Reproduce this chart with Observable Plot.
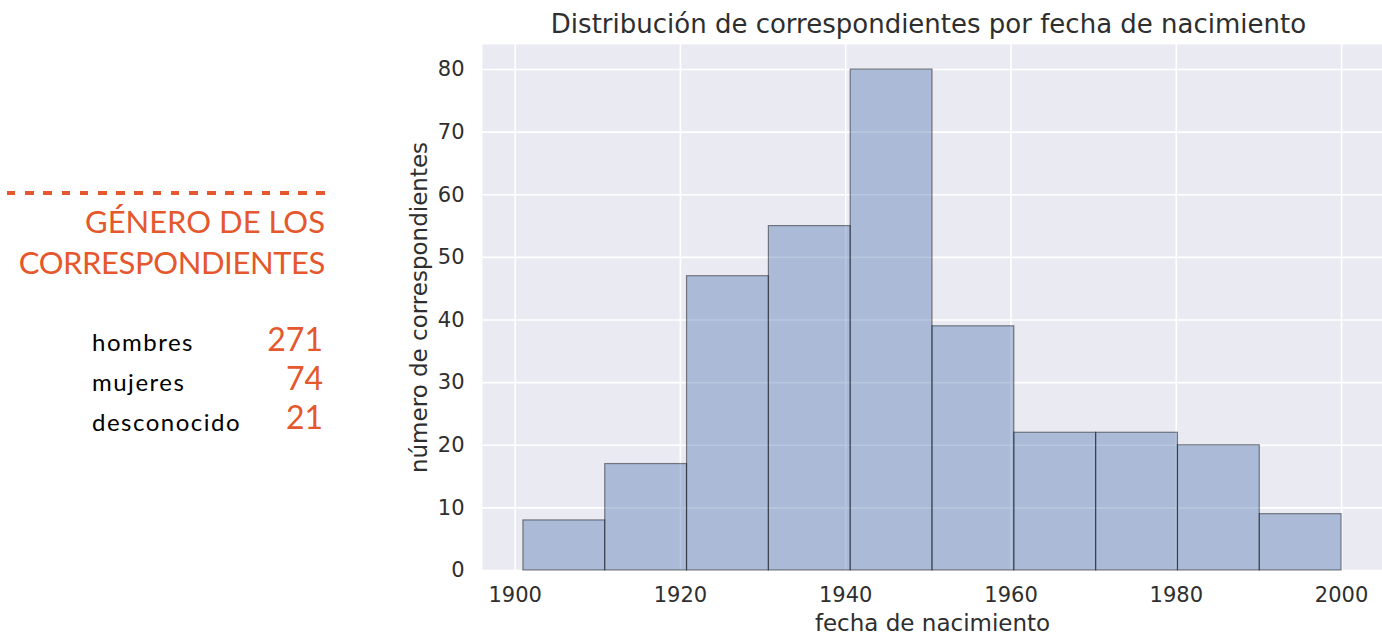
<!DOCTYPE html>
<html>
<head>
<meta charset="utf-8">
<script src="https://cdn.jsdelivr.net/npm/d3@7"></script>
<script src="https://cdn.jsdelivr.net/npm/@observablehq/plot@0.6"></script>
<style>
  html, body { margin: 0; padding: 0; background: #fff; width: 1382px; height: 635px; overflow: hidden; }
  #wrap { position: relative; width: 1382px; height: 635px; }
  #chart { position: absolute; left: 0; top: 0; }
  #side { position: absolute; left: 0; top: 0; width: 330px; height: 635px; font-family: Lato, sans-serif; }
  .rule { position: absolute; left: 7px; top: 191px; width: 318px; height: 4px;
          background: repeating-linear-gradient(to right, #e5572c 0 8.5px, transparent 8.5px 18.2px); }
  .head { position: absolute; right: 5px; color: #e5572c; font-size: 31px; line-height: 31px; font-weight: 400; white-space: nowrap; text-align: right; }
  .head.long { letter-spacing: -0.4px; }
  .lab { position: absolute; left: 92px; color: #000; font-size: 24px; line-height: 24px; letter-spacing: 1.5px; white-space: nowrap; }
  .num { position: absolute; right: 7px; color: #e5572c; font-size: 32px; line-height: 32px; font-weight: 400; white-space: nowrap; text-align: right; }
</style>
</head>
<body>
<div id="wrap">
  <div id="chart"></div>
  <div id="side"><div class="rule"></div></div>
</div>
<script>
// ---- data ----
const binStart = [1901, 1910.9, 1920.8, 1930.7, 1940.6, 1950.5, 1960.4, 1970.3, 1980.2, 1990.1];
const binEnd   = [1910.9, 1920.8, 1930.7, 1940.6, 1950.5, 1960.4, 1970.3, 1980.2, 1990.1, 2000];
const counts   = [8, 17, 47, 55, 80, 39, 22, 22, 20, 9];
const xTicks   = [1900, 1920, 1940, 1960, 1980, 2000];
const yTicks   = [0, 10, 20, 30, 40, 50, 60, 70, 80];
const titleText = "Distribución de correspondientes por fecha de nacimiento";
const xLabel = "fecha de nacimiento";
const yLabel = "número de correspondientes";
const sideTitle = ["GÉNERO DE LOS", "CORRESPONDIENTES"];
const genderLabels = ["hombres", "mujeres", "desconocido"];
const genderCounts = [271, 74, 21];

const bins = binStart.map((x1, i) => ({x1, x2: binEnd[i], count: counts[i]}));

const chart = Plot.plot({
  width: 1382,
  height: 635,
  marginLeft: 482,
  marginRight: 0,
  marginTop: 44,
  marginBottom: 65,
  style: {fontFamily: "'DejaVu Sans', sans-serif", fontSize: "21px", color: "#2e2e2e", background: "transparent", overflow: "visible"},
  x: {domain: [1896.05, 2004.95], label: null},
  y: {domain: [0, 84], label: null},
  marks: [
    Plot.frame({fill: "#eaeaf2", stroke: null}),
    Plot.gridX(xTicks, {stroke: "#fff", strokeOpacity: 1, strokeWidth: 1.6}),
    Plot.gridY(yTicks, {stroke: "#fff", strokeOpacity: 1, strokeWidth: 1.6}),
    Plot.rectY(bins, {x1: "x1", x2: "x2", y: "count", fill: "#4c72b0", fillOpacity: 0.4, stroke: "#000", strokeOpacity: 0.45, strokeWidth: 1.2}),
    Plot.axisX(xTicks, {tickSize: 0, tickPadding: 17, fontSize: 21, tickFormat: d => String(d), label: null, fill: "#2e2e2e"}),
    Plot.axisY(yTicks, {tickSize: 0, tickPadding: 18, fontSize: 21, label: null, fill: "#2e2e2e"}),
    Plot.text([xLabel], {frameAnchor: "bottom", dy: 53, fontSize: 23, lineAnchor: "middle", textAnchor: "middle", fill: "#2e2e2e"}),
    Plot.text([yLabel], {frameAnchor: "left", dx: -63, rotate: -90, fontSize: 23, lineAnchor: "middle", textAnchor: "middle", fill: "#2e2e2e"}),
    Plot.text([titleText], {frameAnchor: "top", dy: -20, dx: -4, fontSize: 26, lineAnchor: "middle", textAnchor: "middle", fill: "#2e2e2e"})
  ]
});
document.getElementById("chart").appendChild(chart);

// ---- side panel ----
const side = document.getElementById("side");
sideTitle.forEach((t, i) => {
  const d = document.createElement("div");
  d.className = "head" + (i === 1 ? " long" : "");
  d.textContent = t;
  d.style.top = (206 + i * 41) + "px";
  side.appendChild(d);
});
genderLabels.forEach((t, i) => {
  const l = document.createElement("div");
  l.className = "lab";
  l.textContent = t;
  l.style.top = (330 + i * 40) + "px";
  side.appendChild(l);
  const n = document.createElement("div");
  n.className = "num";
  n.textContent = String(genderCounts[i]);
  n.style.top = (323 + i * 39) + "px";
  side.appendChild(n);
});
</script>
</body>
</html>
